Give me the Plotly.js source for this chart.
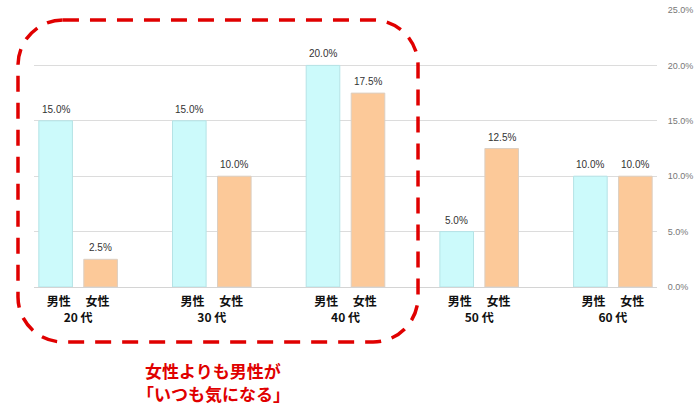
<!DOCTYPE html>
<html>
<head>
<meta charset="utf-8">
<script src="https://cdn.plot.ly/plotly-3.0.1.min.js"></script>
<style>
  html, body { margin: 0; padding: 0; background: #fff; }
  #chart { width: 700px; height: 417px; }
</style>
</head>
<body>
<div id="chart"></div>
<script>
var ages = ['20 代', '30 代', '40 代', '50 代', '60 代'];
var male = [15.0, 15.0, 20.0, 5.0, 10.0];
var female = [2.5, 10.0, 17.5, 12.5, 10.0];
var yTicks = [0, 5, 10, 15, 20, 25];
var yTickText = ['0.0%', '5.0%', '10.0%', '15.0%', '20.0%', '25.0%'];
var note = ['女性よりも男性が', '「いつも気になる」'];

var xPos = [];
var tickLabels = [];
for (var i = 0; i < ages.length; i++) {
    xPos.push(i);
    tickLabels.push('男性\u3000 女性<br>' + ages[i]);
}

function pct(v) { return v.toFixed(1) + '%'; }

var traceMale = {
    x: xPos,
    y: male,
    type: 'bar',
    name: '男性',
    marker: { color: '#ccfafb', line: { color: '#b5e3e6', width: 1 } },
    hoverinfo: 'none'
};
var traceFemale = {
    x: xPos,
    y: female,
    type: 'bar',
    name: '女性',
    marker: { color: '#fcc999', line: { color: '#dccfc2', width: 1 } },
    hoverinfo: 'none'
};

// value labels above each bar (bars sit at ±half a slot from the category)
var bargap = 0.327;
var half = (1 - bargap) / 4;
var labels = [];
for (var j = 0; j < ages.length; j++) {
    labels.push({ x: xPos[j] - half, y: male[j], text: pct(male[j]) });
    labels.push({ x: xPos[j] + half, y: female[j], text: pct(female[j]) });
}
var annots = labels.map(function (d) {
    return {
        x: d.x, y: d.y, xref: 'x', yref: 'y',
        text: d.text, showarrow: false,
        xanchor: 'center', yanchor: 'bottom', yshift: 4,
        font: { family: 'Liberation Sans', size: 10, color: '#333' }
    };
});
// red comment under the frame, one annotation per line
var notePx = [370.5, 393.5];
for (var n = 0; n < note.length; n++) {
    annots.push({
        xref: 'paper',
        yref: 'paper',
        x: (213 - 34) / 623,
        y: (287 - notePx[n]) / 277,
        xanchor: 'center',
        yanchor: 'middle',
        borderpad: 0,
        text: note[n],
        showarrow: false,
        font: { family: 'Noto Sans CJK JP', size: 17, color: '#e00000', weight: 'bold' }
    });
}

// rounded dashed frame around 20-40 代 (paper coords)
var L = -0.0257, R = 0.6164, T = 0.9639, B = -0.1986;
var rx = 0.0722, ry = 0.1625, k = 0.45;
var framePath = 'M ' + (L + rx) + ',' + T +
    ' L ' + (R - rx) + ',' + T +
    ' C ' + (R - rx * k) + ',' + T + ' ' + R + ',' + (T - ry * k) + ' ' + R + ',' + (T - ry) +
    ' L ' + R + ',' + (B + ry) +
    ' C ' + R + ',' + (B + ry * k) + ' ' + (R - rx * k) + ',' + B + ' ' + (R - rx) + ',' + B +
    ' L ' + (L + rx) + ',' + B +
    ' C ' + (L + rx * k) + ',' + B + ' ' + L + ',' + (B + ry * k) + ' ' + L + ',' + (B + ry) +
    ' L ' + L + ',' + (T - ry) +
    ' C ' + L + ',' + (T - ry * k) + ' ' + (L + rx * k) + ',' + T + ' ' + (L + rx) + ',' + T + ' Z';

var layout = {
    width: 700,
    height: 417,
    margin: { l: 34, r: 43, t: 10, b: 130 },
    paper_bgcolor: '#fff',
    plot_bgcolor: '#fff',
    showlegend: false,
    barmode: 'group',
    bargap: bargap,
    bargroupgap: 0.253,
    xaxis: {
        range: [-0.33, 4.33],
        tickvals: xPos,
        ticktext: tickLabels,
        showgrid: false,
        zeroline: false,
        showline: false,
        ticks: '',
        tickangle: 0,
        ticklabelstandoff: 6,
        tickfont: { family: 'Noto Sans CJK JP', size: 12, color: '#111', weight: 'bold' },
        fixedrange: true
    },
    yaxis: {
        side: 'right',
        range: [0, 25],
        tickvals: yTicks,
        ticktext: yTickText,
        showgrid: true,
        gridcolor: '#dcdcdc',
        gridwidth: 1,
        zeroline: true,
        zerolinecolor: '#d4d4d4',
        showline: false,
        ticks: 'outside',
        ticklen: 8,
        tickcolor: 'rgba(0,0,0,0)',
        tickfont: { family: 'Liberation Sans', size: 9, color: '#777' },
        fixedrange: true
    },
    shapes: [{
        type: 'path',
        xref: 'paper',
        yref: 'paper',
        path: framePath,
        line: { color: '#e00000', width: 3.5, dash: '16px,11px' },
        fillcolor: 'rgba(0,0,0,0)'
    }],
    annotations: annots
};

Plotly.newPlot('chart', [traceMale, traceFemale], layout, { displayModeBar: false, staticPlot: true });
</script>
</body>
</html>
